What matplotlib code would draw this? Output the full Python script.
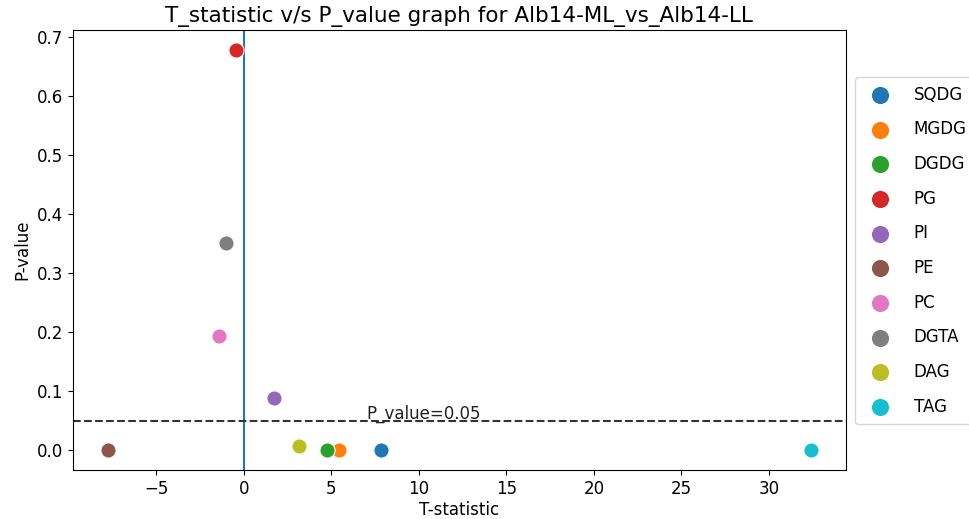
import numpy as np
import matplotlib
import matplotlib.pyplot as plt

matplotlib.use('Agg')

lipids = ['SQDG', 'MGDG', 'DGDG', 'PG', 'PI', 'PE', 'PC', 'DGTA', 'DAG', 'TAG']
t_stat = [7.85, 5.46, 4.74, -0.46, 1.74, -7.78, -1.43, -1.03, 3.17, 32.4]
p_val = [0.0005, 0.0008, 0.0006, 0.678, 0.089, 0.0004, 0.194, 0.351, 0.007, 0.0002]
colors = ['#1f77b4', '#ff7f0e', '#2ca02c', '#d62728', '#9467bd',
          '#8c564b', '#e377c2', '#7f7f7f', '#bcbd22', '#17becf']

fig = plt.figure(figsize=(9.69, 5.19), dpi=100)
ax = fig.add_axes([0.075, 0.094, 0.798, 0.848])

for name, t, p, c in zip(lipids, t_stat, p_val, colors):
    ax.scatter(t, p, s=120, color=c, edgecolors='white', linewidths=0.8, label=name, zorder=3)

ax.axvline(0, color='#1f77b4', zorder=2)
ax.axhline(0.05, color='#333333', linestyle='--', zorder=2)
ax.text(7, 0.054, 'P_value=0.05', fontsize=12, color='#222222')

ax.set_title('T_statistic v/s P_value graph for Alb14-ML_vs_Alb14-LL', fontsize=15.5)
ax.set_xlabel('T-statistic', fontsize=12, labelpad=2)
ax.set_ylabel('P-value', fontsize=12)
ax.tick_params(labelsize=12)

ax.legend(loc='upper left', bbox_to_anchor=(1.012, 0.893), borderaxespad=0, fontsize=12,
          labelspacing=1.0, markerscale=1.2, handletextpad=1.0, borderpad=0.5)

fig.savefig('out.png', dpi=100)
